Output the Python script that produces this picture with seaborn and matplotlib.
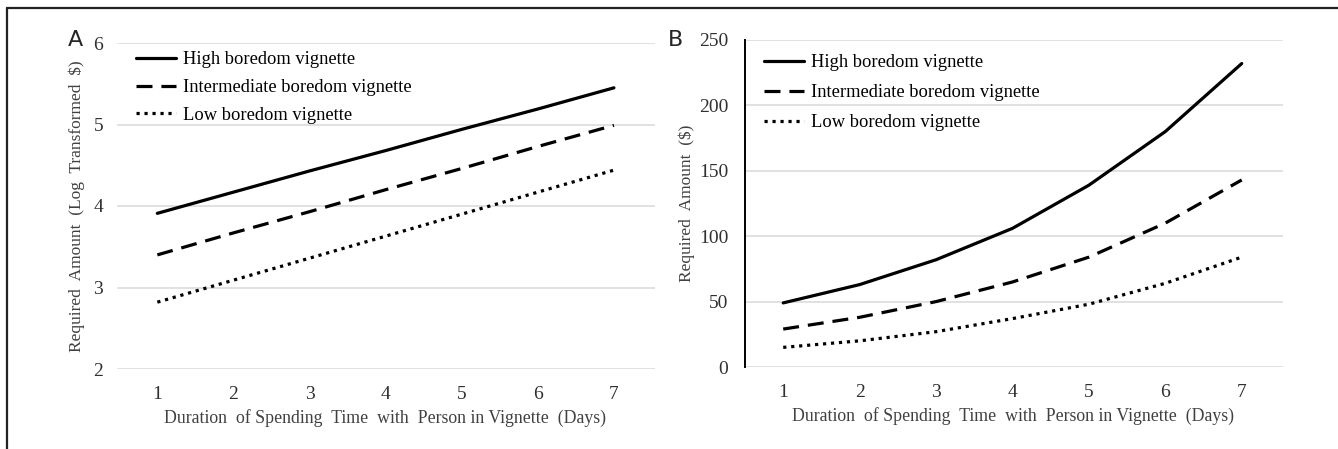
import pandas as pd
import matplotlib
matplotlib.use("Agg")
import matplotlib.pyplot as plt
from matplotlib.lines import Line2D
import seaborn as sns

days = [1, 2, 3, 4, 5, 6, 7]
conditions = ["High boredom vignette", "Intermediate boredom vignette", "Low boredom vignette"]

# panel A: log transformed amount
log_high = [3.91, 4.17, 4.43, 4.68, 4.94, 5.19, 5.45]
log_mid = [3.40, 3.67, 3.93, 4.20, 4.46, 4.73, 4.99]
log_low = [2.82, 3.09, 3.36, 3.63, 3.90, 4.17, 4.44]

# panel B: amount in dollars
usd_high = [49, 63, 82, 106, 139, 180, 232]
usd_mid = [29, 38, 50, 65, 84, 110, 143]
usd_low = [15, 20, 27, 37, 48, 64, 84]

yticks_a = [2, 3, 4, 5, 6]
yticks_b = [0, 50, 100, 150, 200, 250]


def long_df(high, mid, low):
    rows = []
    for cond, vals in zip(conditions, [high, mid, low]):
        for d, v in zip(days, vals):
            rows.append({"Day": d, "Amount": v, "Vignette": cond})
    return pd.DataFrame(rows)


df_a = long_df(log_high, log_mid, log_low)
df_b = long_df(usd_high, usd_mid, usd_low)

sns.set_style("white")
plt.rcParams["font.family"] = ["Liberation Serif", "DejaVu Serif"]

dash_map = {conditions[0]: "", conditions[1]: (5, 2.8), conditions[2]: (1, 1.5)}

W, H = 1338, 449
fig = plt.figure(figsize=(W / 100, H / 100), dpi=100)


def px_axes(left, right, top, bottom):
    return fig.add_axes([left / W, 1 - bottom / H, (right - left) / W, (bottom - top) / H])


ax_a = px_axes(117, 655, 43, 369)
ax_b = px_axes(745, 1283, 40, 367)

tick_col = "#303030"
label_col = "#404040"

for ax, df, yt, ylab, xlim, ylabx, ypad, leg_y, leg_sp in [
    (ax_a, df_a, yticks_a, "Required  Amount  (Log  Transformed  $)", (0.47, 7.54), -0.074, 10, 0.975, 0.59),
    (ax_b, df_b, yticks_b, "Required  Amount  ($)", (0.5, 7.54), -0.108, 12, 0.957, 0.71),
]:
    sns.lineplot(data=df, x="Day", y="Amount", style="Vignette", style_order=conditions,
                 dashes=dash_map, color="black", linewidth=2.3, ax=ax)
    ax.set_xlim(*xlim)
    ax.set_ylim(yt[0], yt[-1])
    ax.set_xticks(days)
    ax.set_yticks(yt)
    ax.grid(axis="y", color="#d9d9d9", linewidth=1.1)
    ax.grid(axis="x", visible=False)
    ax.set_axisbelow(True)
    for s in ax.spines.values():
        s.set_visible(False)
    ax.tick_params(axis="both", length=0, labelsize=14, colors=tick_col)
    ax.tick_params(axis="y", pad=ypad)
    ax.tick_params(axis="x", pad=12)
    ax.set_xlabel("Duration  of Spending  Time  with  Person in Vignette  (Days)", fontsize=12.8, color=label_col)
    ax.xaxis.set_label_coords(0.498, -0.15)
    ax.xaxis.label.set_va("center")
    ax.set_ylabel(ylab, fontsize=12.5, color=label_col)
    ax.yaxis.set_label_coords(ylabx, 0.5)
    ax.yaxis.label.set_va("center")
    leg = ax.legend(loc="upper left", bbox_to_anchor=(0.035, leg_y), frameon=False,
                    fontsize=13.3, handlelength=2.2, handletextpad=0.35,
                    labelspacing=leg_sp, borderpad=0, borderaxespad=0)
    for t in leg.get_texts():
        t.set_color("black")

ax_b.spines["left"].set_visible(True)
ax_b.spines["left"].set_color("black")
ax_b.spines["left"].set_linewidth(1.4)

fig.text(75 / W, 1 - 40 / H, "A", fontsize=16, family="DejaVu Sans", ha="center", va="center")
fig.text(675 / W, 1 - 40 / H, "B", fontsize=16, family="DejaVu Sans", ha="center", va="center")

# outer frame: top and left only
fig.add_artist(Line2D([7 / W, 1], [1 - 8 / H, 1 - 8 / H], color="#222222", linewidth=1.6, transform=fig.transFigure))
fig.add_artist(Line2D([7 / W, 7 / W], [0, 1 - 8 / H], color="#222222", linewidth=1.6, transform=fig.transFigure))

fig.savefig("out.png", dpi=100)
